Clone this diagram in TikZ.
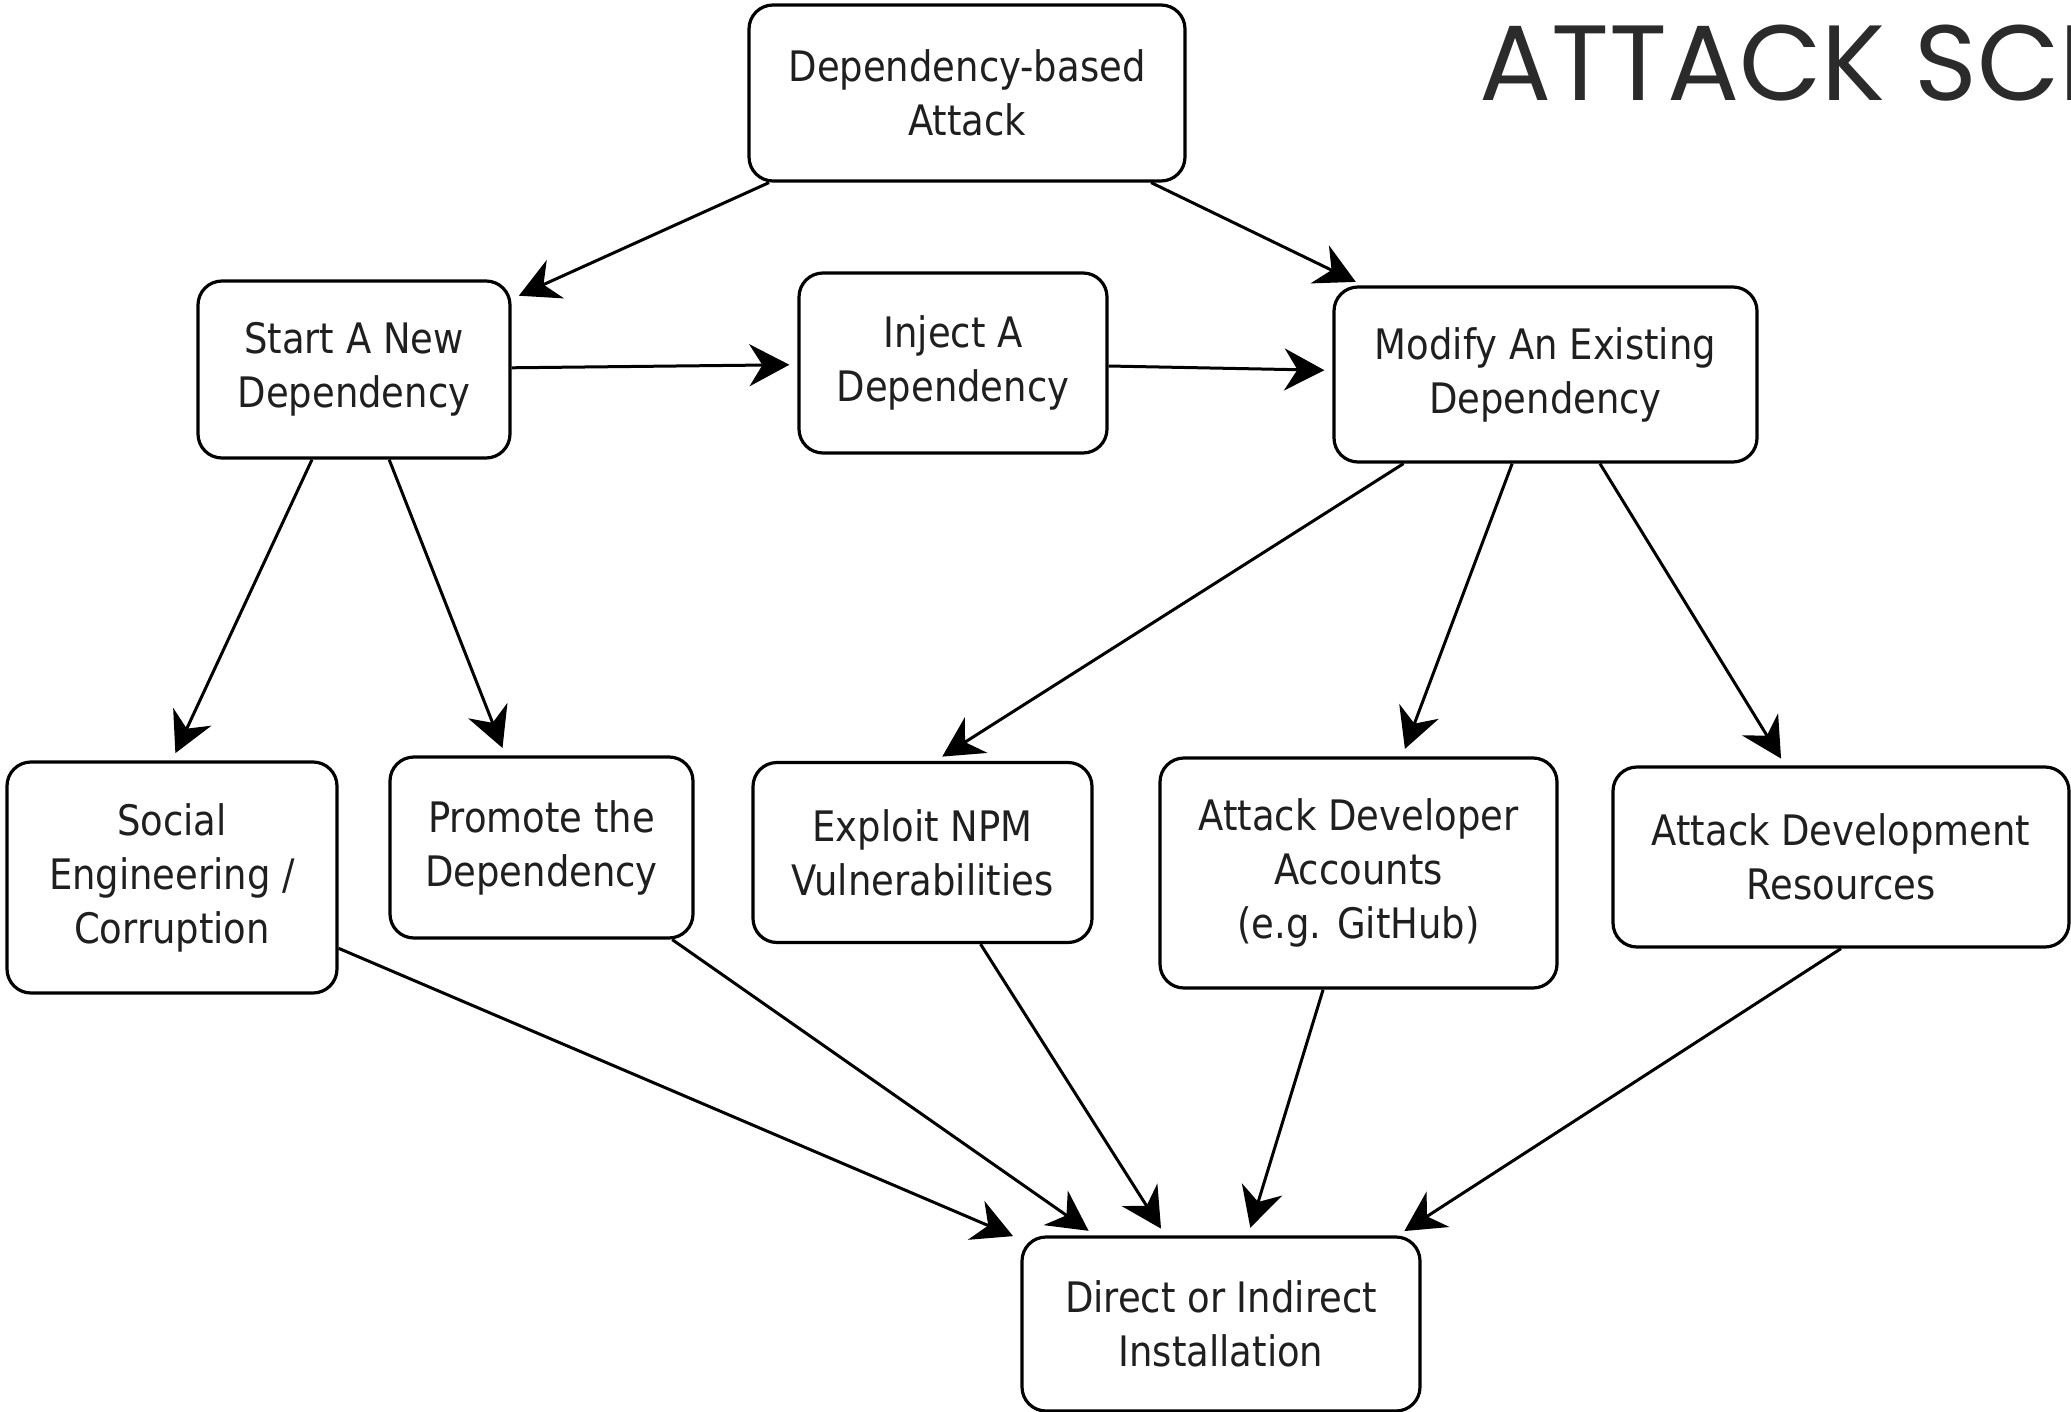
\documentclass[tikz,border=0pt]{standalone}
\usepackage{fontspec}
\setmainfont{DejaVu Sans}[FakeStretch=0.88]
\newfontfamily\titlefont{Poppins}
\usetikzlibrary{arrows.meta,calc}
\definecolor{titlegray}{HTML}{2B2B2B}
\begin{document}
\begin{tikzpicture}[x=1pt,y=-1pt,
  box/.style={draw=black, line width=3.2pt, rounded corners=24pt, fill=white,
    inner sep=0pt, align=center, font=\fontsize{42}{54}\selectfont, text=black!88},
  arr/.style={line width=3pt, -{Stealth[length=40pt,width=42pt,inset=13pt]}, shorten >=8pt}]
\useasboundingbox (0,0) rectangle (2071,1412);
\fill[white] (0,0) rectangle (2071,1412);

\node[anchor=base west, inner sep=0pt, text=titlegray,
  font=\titlefont\fontsize{107}{107}\selectfont] (title) at (1479,101) {ATTACK SCE};

\node[box, minimum width=436pt, minimum height=176pt] (root) at (967,93) {Dependency-based\\Attack};
\node[box, minimum width=312pt, minimum height=177pt] (start) at (354,369.5) {Start A New\\Dependency};
\node[box, minimum width=308pt, minimum height=180pt] (inject) at (953,363) {Inject A\\Dependency};
\node[box, minimum width=423pt, minimum height=175pt] (modify) at (1545.5,374.5) {Modify An Existing\\Dependency};
\node[box, minimum width=330pt, minimum height=231pt] (social) at (172,877.5) {Social\\Engineering /\\Corruption};
\node[box, minimum width=303pt, minimum height=181pt] (promote) at (541.5,847.5) {Promote the\\Dependency};
\node[box, minimum width=339pt, minimum height=180pt] (exploit) at (922.5,852.5) {Exploit NPM\\Vulnerabilities};
\node[box, minimum width=397pt, minimum height=230pt] (attackdev) at (1358.5,873) {Attack Developer\\Accounts\\(e.g. GitHub)};
\node[box, minimum width=456pt, minimum height=180pt] (resources) at (1841,857) {Attack Development\\Resources};
\node[box, minimum width=398pt, minimum height=174pt] (direct) at (1221,1324) {Direct or Indirect\\Installation};

\draw[arr] (root) -- (start);
\draw[arr] (root) -- (modify);
\draw[arr] (start) -- (inject);
\draw[arr] (inject) -- (modify);
\draw[arr] ($(start.south)+(-42,0)$) -- (social.north);
\draw[arr] (start) -- (promote);
\draw[arr] ($(modify.south)+(-142,0)$) -- ($(exploit.north)+(13,0)$);
\draw[arr] (modify) -- (attackdev);
\draw[arr] (modify) -- (resources);
\draw[arr] (social) -- (direct);
\draw[arr] (promote) -- (direct);
\draw[arr] (exploit) -- (direct);
\draw[arr] (attackdev) -- (direct);
\draw[arr] (resources.south) -- ($(direct.north east)+(-24,0)$);
\end{tikzpicture}
\end{document}
